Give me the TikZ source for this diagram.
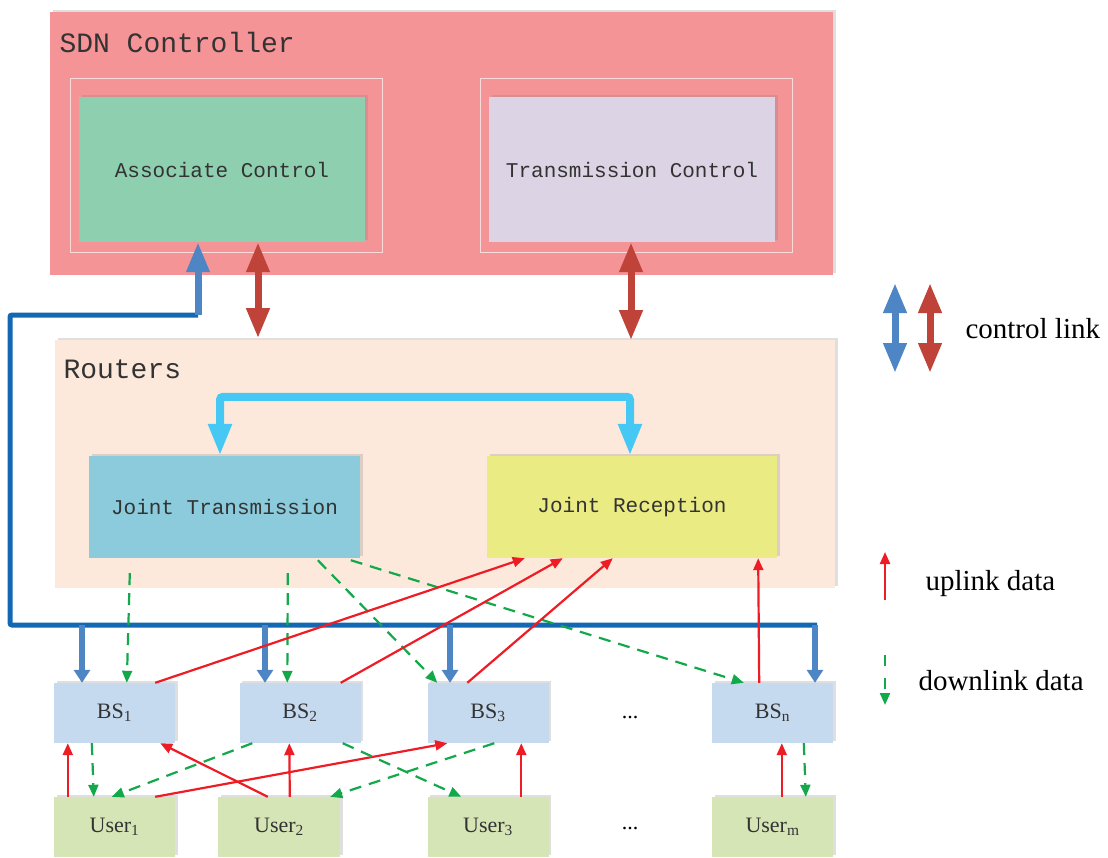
\documentclass[tikz,border=0pt]{standalone}
\usepackage{fontspec}
\setmainfont{Liberation Serif}
\newfontfamily\boxfont{Liberation Mono}
\usetikzlibrary{arrows.meta,shadows}

\definecolor{sdnfill}{HTML}{F49496}
\definecolor{assocfill}{HTML}{8ECFB0}
\definecolor{transfill}{HTML}{DCD4E4}
\definecolor{routfill}{HTML}{FCE9DC}
\definecolor{jtfill}{HTML}{8BCBDB}
\definecolor{jrfill}{HTML}{EAEB83}
\definecolor{bsfill}{HTML}{C5D9EF}
\definecolor{userfill}{HTML}{D6E5B5}
\definecolor{ctrlred}{HTML}{C0433A}
\definecolor{ctrlblue}{HTML}{4E85C5}
\definecolor{busblue}{HTML}{1268B3}
\definecolor{jointcyan}{HTML}{45C8F4}
\definecolor{upred}{HTML}{EE1C25}
\definecolor{downgreen}{HTML}{13A84A}
\definecolor{txtgray}{HTML}{333333}

\tikzset{
  box/.style={rectangle, inner sep=0pt, text=txtgray,
    drop shadow={shadow xshift=2.5pt, shadow yshift=2.5pt, opacity=0.25}},
  frame/.style={rectangle, inner sep=0pt, draw=white!65!sdnfill, line width=0.5pt},
  boxtext/.style={font=\boxfont\fontsize{21}{24}\selectfont},
  titletext/.style={anchor=west, text=txtgray, font=\boxfont\fontsize{28}{32}\selectfont},
  stationtext/.style={font=\fontsize{22}{24}\selectfont},
  legendtext/.style={anchor=west, text=black, font=\fontsize{29}{32}\selectfont},
  redlink/.style={ctrlred, line width=7pt,
    {Triangle[length=30pt,width=22pt]}-{Triangle[length=30pt,width=22pt]}},
  bluelink/.style={ctrlblue, line width=7pt,
    {Triangle[length=30pt,width=22pt]}-{Triangle[length=30pt,width=22pt]}},
  feedlink/.style={ctrlblue, line width=7pt, -{Triangle[length=30pt,width=22pt]}},
  cyanlink/.style={jointcyan, line width=8pt, rounded corners=3pt,
    {Triangle[length=32pt,width=22pt]}-{Triangle[length=32pt,width=22pt]}},
  busline/.style={busblue, line width=5pt, rounded corners=2pt},
  droplink/.style={ctrlblue, line width=6pt, -{Triangle[length=13pt,width=16pt]}},
  uplink/.style={upred, line width=2.2pt, -{Triangle[length=12pt,width=10pt]}},
  downlink/.style={downgreen, line width=2.2pt, dash pattern=on 12pt off 8pt,
    -{Triangle[length=12pt,width=10pt]}}
}

\begin{document}
\begin{tikzpicture}[x=1pt,y=-1pt]
  \useasboundingbox (0,0) rectangle (1108,857);

  % SDN controller
  \node[box, fill=sdnfill, minimum width=783pt, minimum height=263pt] (sdn) at (441.5,143.5) {};
  \node[titletext] (sdntitle) at (56,42) {SDN Controller};
  \node[frame, minimum width=312pt, minimum height=174pt] (assocframe) at (226,165) {};
  \node[frame, minimum width=312pt, minimum height=174pt] (transframe) at (636,165) {};
  \node[box, boxtext, fill=assocfill, minimum width=286pt, minimum height=145pt] (assoc) at (222,169.5) {Associate Control};
  \node[box, boxtext, fill=transfill, minimum width=286pt, minimum height=145pt] (trans) at (632,169.5) {Transmission Control};

  % routers
  \node[box, fill=routfill, minimum width=780pt, minimum height=248pt] (routers) at (445,464) {};
  \node[titletext] (routtitle) at (60,369) {Routers};
  \node[box, boxtext, fill=jtfill, minimum width=271pt, minimum height=102pt] (jt) at (224.5,507) {Joint Transmission};
  \node[box, boxtext, fill=jrfill, minimum width=290pt, minimum height=102pt] (jr) at (632,507) {Joint Reception};

  % base stations and users
  \node[box, stationtext, fill=bsfill, minimum width=121pt, minimum height=60pt] (bs1) at (114.5,713) {BS\textsubscript{1}};
  \node[box, stationtext, fill=bsfill, minimum width=121pt, minimum height=60pt] (bs2) at (300,713) {BS\textsubscript{2}};
  \node[box, stationtext, fill=bsfill, minimum width=121pt, minimum height=60pt] (bs3) at (488,713) {BS\textsubscript{3}};
  \node[box, stationtext, fill=bsfill, minimum width=121pt, minimum height=60pt] (bsn) at (772.5,713) {BS\textsubscript{n}};
  \node[box, stationtext, fill=userfill, minimum width=121pt, minimum height=60pt] (u1) at (114.5,827) {User\textsubscript{1}};
  \node[box, stationtext, fill=userfill, minimum width=122pt, minimum height=60pt] (u2) at (279,827) {User\textsubscript{2}};
  \node[box, stationtext, fill=userfill, minimum width=121pt, minimum height=60pt] (u3) at (488,827) {User\textsubscript{3}};
  \node[box, stationtext, fill=userfill, minimum width=121pt, minimum height=60pt] (um) at (772.5,827) {User\textsubscript{m}};
  \node[stationtext] (bsdots) at (630,718) {...};
  \node[stationtext] (udots) at (630,828) {...};

  % control links
  \draw[redlink] ([xshift=36pt]assoc.south) -- ++(0,96);
  \draw[redlink] ([xshift=-1pt]trans.south) -- ++(0,98);
  \draw[cyanlink] ([xshift=-4.5pt]jt.north) -- ++(0,-59) -| ([xshift=-2pt]jr.north);

  \coordinate (feed) at (198,315);
  \coordinate (corner) at (10,315);
  \coordinate (busL) at (10,625);
  \coordinate (busR) at (817,625);
  \draw[busline] (feed) -- (corner) -- (busL) -- (busR);
  \draw[feedlink] (feed) -- (feed |- assoc.south);
  \coordinate (d1) at (82,625);
  \coordinate (d2) at (265,625);
  \coordinate (d3) at (450,625);
  \coordinate (dn) at (815,625);
  \draw[droplink] (d1) -- (d1 |- bs1.north);
  \draw[droplink] (d2) -- (d2 |- bs2.north);
  \draw[droplink] (d3) -- (d3 |- bs3.north);
  \draw[droplink] (dn) -- (dn |- bsn.north);

  % downlink from joint transmission
  \draw[downlink] ([xshift=41pt,yshift=-15pt]jt.south west) -- ([xshift=73pt]bs1.north west);
  \draw[downlink] ([xshift=199pt,yshift=-15pt]jt.south west) -- ([xshift=48pt]bs2.north west);
  \draw[downlink] ([xshift=229pt,yshift=-2pt]jt.south west) -- ([xshift=10pt]bs3.north west);
  \draw[downlink] ([xshift=262pt,yshift=-2pt]jt.south west) -- ([xshift=32pt]bsn.north west);

  % uplink to joint reception
  \draw[uplink] ([xshift=-20pt]bs1.north east) -- ([xshift=38pt]jr.south west);
  \draw[uplink] ([xshift=-20pt]bs2.north east) -- ([xshift=76pt]jr.south west);
  \draw[uplink] ([xshift=40pt]bs3.north west) -- ([xshift=126pt]jr.south west);
  \draw[uplink] ([xshift=-74pt]bsn.north east) -- ([xshift=-19pt]jr.south east);

  % users and base stations
  \draw[uplink] ([xshift=14pt]u1.north west) -- ([xshift=14pt]bs1.south west);
  \draw[downlink] ([xshift=38pt]bs1.south west) -- ([xshift=40pt]u1.north west);
  \draw[downlink] ([xshift=13pt]bs2.south west) -- ([xshift=58pt]u1.north west);
  \draw[uplink] ([xshift=50pt]u2.north west) -- ([xshift=-15pt]bs1.south east);
  \draw[uplink] ([xshift=72pt]u2.north west) -- ([xshift=50pt]bs2.south west);
  \draw[uplink] ([xshift=-20pt]u1.north east) -- ([xshift=20pt]bs3.south west);
  \draw[downlink] ([xshift=-18pt]bs2.south east) -- ([xshift=34pt]u3.north west);
  \draw[downlink] ([xshift=67pt]bs3.south west) -- ([xshift=-10pt]u2.north east);
  \draw[uplink] ([xshift=94pt]u3.north west) -- ([xshift=94pt]bs3.south west);
  \draw[uplink] ([xshift=70pt]um.north west) -- ([xshift=70pt]bsn.south west);
  \draw[downlink] ([xshift=92pt]bsn.south west) -- ([xshift=94pt]um.north west);

  % legend
  \coordinate (lgblue) at (895,283);
  \coordinate (lgred) at (930,283);
  \coordinate (lgup) at (885,600);
  \coordinate (lgdown) at (885,655);
  \draw[bluelink] (lgblue) -- ++(0,90);
  \draw[redlink] (lgred) -- ++(0,90);
  \draw[uplink] (lgup) -- ++(0,-48);
  \draw[downlink, dash pattern=on 11pt off 12pt] (lgdown) -- ++(0,50);
  \node[legendtext] (ctrltext) at (962,329) {control link};
  \node[legendtext] (uptext) at (922,584) {uplink data};
  \node[legendtext] (downtext) at (915,681) {downlink data};
\end{tikzpicture}
\end{document}
